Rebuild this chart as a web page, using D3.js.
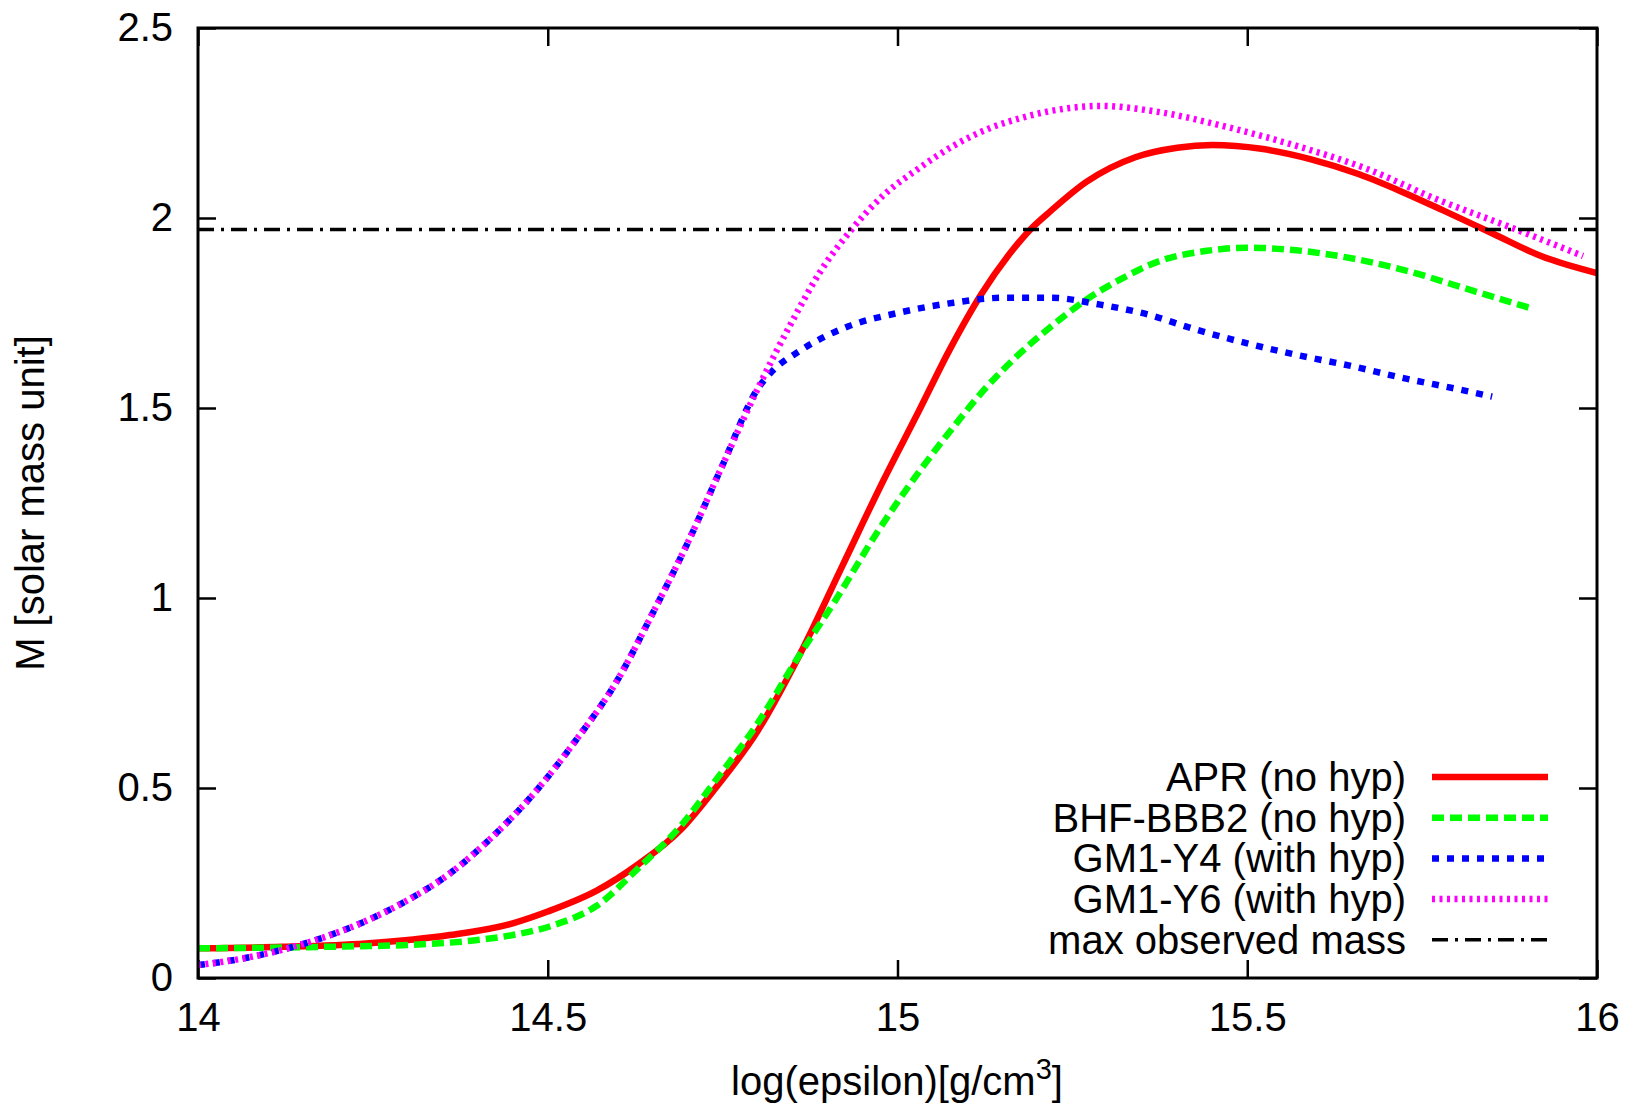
<!DOCTYPE html>
<html>
<head>
<meta charset="utf-8">
<script src="https://cdn.jsdelivr.net/npm/d3@7"></script>
<style>
  body { margin: 0; background: #fff; }
  text { font-family: "Liberation Sans", Arial, sans-serif; fill: #000; }
</style>
</head>
<body>
<svg id="chart" width="1629" height="1109"></svg>
<script>
// values: log(epsilon) and M (solar masses)
const aprX = [14.0, 14.12, 14.24, 14.36, 14.45, 14.5, 14.57, 14.63, 14.69, 14.74, 14.8, 14.86, 14.92, 14.98, 15.03, 15.075, 15.12, 15.16, 15.19, 15.22, 15.27, 15.34, 15.4, 15.45, 15.52, 15.59, 15.66, 15.72, 15.78, 15.85, 15.92, 16.0];
const aprM = [0.078, 0.082, 0.091, 0.113, 0.144, 0.175, 0.23, 0.30, 0.39, 0.50, 0.65, 0.85, 1.08, 1.31, 1.49, 1.655, 1.80, 1.905, 1.97, 2.02, 2.095, 2.16, 2.185, 2.192, 2.182, 2.155, 2.115, 2.07, 2.02, 1.96, 1.90, 1.855];

const bhfX = [14.0, 14.18, 14.3, 14.39, 14.45, 14.51, 14.57, 14.63, 14.69, 14.74, 14.8, 14.86, 14.91, 14.97, 15.03, 15.08, 15.12, 15.17, 15.22, 15.27, 15.32, 15.38, 15.44, 15.5, 15.57, 15.64, 15.72, 15.82, 15.91];
const bhfM = [0.078, 0.082, 0.087, 0.098, 0.113, 0.14, 0.19, 0.29, 0.40, 0.52, 0.67, 0.85, 0.99, 1.17, 1.33, 1.45, 1.54, 1.635, 1.715, 1.785, 1.84, 1.89, 1.913, 1.922, 1.915, 1.897, 1.865, 1.81, 1.76];

const y4X = [14.0, 14.06, 14.12, 14.18, 14.24, 14.3, 14.36, 14.42, 14.48, 14.54, 14.6, 14.65, 14.7, 14.75, 14.8, 14.82, 14.86, 14.93, 15.0, 15.08, 15.15, 15.22, 15.29, 15.36, 15.42, 15.5, 15.57, 15.65, 15.72, 15.8, 15.85];
const y4M = [0.034, 0.05, 0.074, 0.107, 0.15, 0.205, 0.275, 0.37, 0.485, 0.625, 0.785, 0.96, 1.145, 1.35, 1.55, 1.595, 1.65, 1.715, 1.75, 1.777, 1.79, 1.79, 1.772, 1.745, 1.71, 1.67, 1.64, 1.61, 1.58, 1.55, 1.53];

const y6X = [14.0, 14.06, 14.12, 14.18, 14.24, 14.3, 14.36, 14.42, 14.48, 14.54, 14.6, 14.65, 14.7, 14.75, 14.8, 14.85, 14.89, 14.93, 14.98, 15.03, 15.08, 15.13, 15.18, 15.24, 15.29, 15.37, 15.47, 15.57, 15.67, 15.77, 15.87, 15.98];
const y6M = [0.034, 0.05, 0.074, 0.107, 0.15, 0.205, 0.275, 0.37, 0.485, 0.625, 0.785, 0.96, 1.145, 1.35, 1.55, 1.73, 1.86, 1.96, 2.06, 2.13, 2.19, 2.235, 2.265, 2.288, 2.295, 2.28, 2.24, 2.19, 2.13, 2.05, 1.98, 1.90];

const maxObserved = 1.97;

const xTicks = [14, 14.5, 15, 15.5, 16];
const yTicks = [0, 0.5, 1, 1.5, 2, 2.5];

const legendNames = ["APR (no hyp)", "BHF-BBB2 (no hyp)", "GM1-Y4 (with hyp)", "GM1-Y6 (with hyp)", "max observed mass"];

// layout
const W = 1629, H = 1109;
const margin = {left: 198, right: 32, top: 28, bottom: 131};
const width = W - margin.left - margin.right;
const height = H - margin.top - margin.bottom;

const svg = d3.select("#chart");
const g = svg.append("g").attr("transform", `translate(${margin.left},${margin.top})`);

const x = d3.scaleLinear().domain([14, 16]).range([0, width]);
const y = d3.scaleLinear().domain([0, 2.5]).range([height, 0]);

const fmt = d => String(d);

// axes with inward ticks
const gx = g.append("g").attr("transform", `translate(0,${height})`)
  .call(d3.axisBottom(x).tickValues(xTicks).tickFormat(fmt).tickSize(-18).tickPadding(25));
const gy = g.append("g")
  .call(d3.axisLeft(y).tickValues(yTicks).tickFormat(fmt).tickSize(-18).tickPadding(25));
const gt = g.append("g")
  .call(d3.axisTop(x).tickValues(xTicks).tickFormat("").tickSize(-18));
const gr = g.append("g").attr("transform", `translate(${width},0)`)
  .call(d3.axisRight(y).tickValues(yTicks).tickFormat("").tickSize(-18));

[gx, gy, gt, gr].forEach(a => {
  a.select(".domain").remove();
  a.selectAll(".tick line").attr("stroke", "#000").attr("stroke-width", 2.5);
  a.selectAll("text").style("font-size", "40px").attr("fill", "#000");
});

// series
const series = [
  {xs: aprX, ms: aprM, color: "#ff0000", dash: null},
  {xs: bhfX, ms: bhfM, color: "#00ff00", dash: "12,6"},
  {xs: y4X, ms: y4M, color: "#0000ff", dash: "7,8"},
  {xs: y6X, ms: y6M, color: "#ff00ff", dash: "3,4.5"}
];

const line = d3.line()
  .x(d => x(d[0]))
  .y(d => y(d[1]))
  .curve(d3.curveMonotoneX);

series.forEach(s => {
  g.append("path")
    .datum(s.xs.map((v, i) => [v, s.ms[i]]))
    .attr("fill", "none")
    .attr("stroke", s.color)
    .attr("stroke-width", 6.5)
    .attr("stroke-dasharray", s.dash)
    .attr("d", line);
});

// max observed mass
const dashDot = "16,7,3,7";
g.append("line")
  .attr("x1", x(14)).attr("x2", x(16))
  .attr("y1", y(maxObserved)).attr("y2", y(maxObserved))
  .attr("stroke", "#000").attr("stroke-width", 3.5)
  .attr("stroke-dasharray", dashDot);

// frame
g.append("rect")
  .attr("width", width).attr("height", height)
  .attr("fill", "none").attr("stroke", "#000").attr("stroke-width", 3);

// legend
const legendStyles = series.map(s => ({color: s.color, dash: s.dash, w: 6.5}))
  .concat([{color: "#000", dash: dashDot, w: 3.5}]);

const leg = svg.append("g");
legendNames.forEach((name, i) => {
  const ly = 777 + i * 40.7;
  leg.append("text")
    .attr("x", 1406).attr("y", ly).attr("dy", "0.35em")
    .attr("text-anchor", "end")
    .style("font-size", "40px")
    .text(name);
  leg.append("line")
    .attr("x1", 1432).attr("x2", 1548)
    .attr("y1", ly).attr("y2", ly)
    .attr("stroke", legendStyles[i].color)
    .attr("stroke-width", legendStyles[i].w)
    .attr("stroke-dasharray", legendStyles[i].dash);
});

// axis titles
const xl = svg.append("text")
  .attr("x", 897).attr("y", 1095)
  .attr("text-anchor", "middle")
  .style("font-size", "40px");
xl.append("tspan").text("log(epsilon)[g/cm");
xl.append("tspan").attr("dy", -16).style("font-size", "29px").text("3");
xl.append("tspan").attr("dy", 16).text("]");

svg.append("text")
  .attr("transform", `translate(44,${margin.top + height / 2}) rotate(-90)`)
  .attr("text-anchor", "middle")
  .style("font-size", "40px")
  .text("M [solar mass unit]");
</script>
</body>
</html>
